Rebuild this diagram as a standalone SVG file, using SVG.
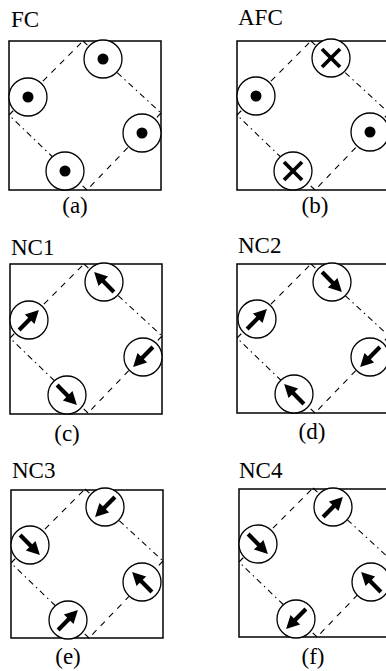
<svg xmlns="http://www.w3.org/2000/svg" xmlns:xlink="http://www.w3.org/1999/xlink" width="386" height="671" viewBox="0 0 386 671">
<style>
.box{fill:none;stroke:#000;stroke-width:1.5}
.site{fill:#fff;stroke:#000;stroke-width:1.3}
.dash{fill:none;stroke:#000;stroke-width:1.1;stroke-dasharray:6 6}
.dashdot{fill:none;stroke:#000;stroke-width:1.1;stroke-dasharray:6 4 1.5 4}
.title{font-family:"Liberation Serif","Times New Roman",serif;font-size:23px;fill:#000}
.cap{font-family:"Liberation Serif","Times New Roman",serif;font-size:23px;fill:#000;text-anchor:middle}
.x{stroke:#000;stroke-width:3.8;stroke-linecap:butt}
</style>
<defs>
<g id="arrow"><rect x="-14" y="-2.1" width="16" height="4.2" fill="#000"/><polygon points="14,0 1,-6.8 1,6.8" fill="#000"/></g>
<g id="diamond">
<line class="dash" x1="0" y1="74" x2="74" y2="0"/>
<line class="dashdot" x1="74" y1="0" x2="152" y2="72"/>
<line class="dash" x1="152" y1="72" x2="78" y2="149"/>
<line class="dashdot" x1="78" y1="149" x2="0" y2="74"/>
</g>
</defs>

<g id="panels">
<g id="panel-a"><rect class="box" x="9" y="41" width="152" height="149"/><text class="title" x="11" y="27">FC</text><text class="cap" x="75" y="213">(a)</text></g>
<g id="panel-b"><rect class="box" x="237" y="41" width="152" height="149"/><text class="title" x="238" y="25">AFC</text><text class="cap" x="315" y="213">(b)</text></g>
<g id="panel-c"><rect class="box" x="10" y="264" width="152" height="150"/><text class="title" x="11" y="255">NC1</text><text class="cap" x="67" y="441">(c)</text></g>
<g id="panel-d"><rect class="box" x="237" y="264" width="152" height="149"/><text class="title" x="238" y="253">NC2</text><text class="cap" x="312" y="439">(d)</text></g>
<g id="panel-e"><rect class="box" x="11" y="490" width="152" height="148"/><text class="title" x="12" y="478">NC3</text><text class="cap" x="68" y="664">(e)</text></g>
<g id="panel-f"><rect class="box" x="239" y="489" width="152" height="148"/><text class="title" x="239" y="478">NC4</text><text class="cap" x="313" y="664">(f)</text></g>
</g>

<g id="connectors">
<use xlink:href="#diamond" transform="translate(9,41)"/>
<use xlink:href="#diamond" transform="translate(237,41)"/>
<use xlink:href="#diamond" transform="translate(10,264)"/>
<use xlink:href="#diamond" transform="translate(237,264)"/>
<use xlink:href="#diamond" transform="translate(11,489)"/>
<use xlink:href="#diamond" transform="translate(239,488)"/>
</g>

<!-- (a) FC -->
<g id="a-top" transform="translate(103,59)"><circle class="site" r="19"/><circle r="5.5" fill="#000"/></g>
<g id="a-left" transform="translate(28,97)"><circle class="site" r="19"/><circle r="5.5" fill="#000"/></g>
<g id="a-right" transform="translate(142,133)"><circle class="site" r="19"/><circle r="5.5" fill="#000"/></g>
<g id="a-bottom" transform="translate(65,171)"><circle class="site" r="19"/><circle r="5.5" fill="#000"/></g>

<!-- (b) AFC -->
<g id="b-top" transform="translate(331,58)"><circle class="site" r="19"/><line class="x" x1="-9" y1="-9" x2="9" y2="9"/><line class="x" x1="9" y1="-9" x2="-9" y2="9"/></g>
<g id="b-left" transform="translate(256,96)"><circle class="site" r="19"/><circle r="5.5" fill="#000"/></g>
<g id="b-right" transform="translate(370,132)"><circle class="site" r="19"/><circle r="5.5" fill="#000"/></g>
<g id="b-bottom" transform="translate(293,171)"><circle class="site" r="19"/><line class="x" x1="-9" y1="-9" x2="9" y2="9"/><line class="x" x1="9" y1="-9" x2="-9" y2="9"/></g>

<!-- (c) NC1 -->
<g id="c-top" transform="translate(104,282)"><circle class="site" r="19"/><use xlink:href="#arrow" transform="rotate(-135)"/></g>
<g id="c-left" transform="translate(29,320)"><circle class="site" r="19"/><use xlink:href="#arrow" transform="rotate(-45)"/></g>
<g id="c-right" transform="translate(143,357)"><circle class="site" r="19"/><use xlink:href="#arrow" transform="rotate(135)"/></g>
<g id="c-bottom" transform="translate(67,395)"><circle class="site" r="19"/><use xlink:href="#arrow" transform="rotate(45)"/></g>

<!-- (d) NC2 -->
<g id="d-top" transform="translate(332,282)"><circle class="site" r="19"/><use xlink:href="#arrow" transform="rotate(45)"/></g>
<g id="d-left" transform="translate(257,319)"><circle class="site" r="19"/><use xlink:href="#arrow" transform="rotate(-45)"/></g>
<g id="d-right" transform="translate(370,357)"><circle class="site" r="19"/><use xlink:href="#arrow" transform="rotate(135)"/></g>
<g id="d-bottom" transform="translate(294,394)"><circle class="site" r="19"/><use xlink:href="#arrow" transform="rotate(-135)"/></g>

<!-- (e) NC3 -->
<g id="e-top" transform="translate(105,507)"><circle class="site" r="19"/><use xlink:href="#arrow" transform="rotate(135)"/></g>
<g id="e-left" transform="translate(30,545)"><circle class="site" r="19"/><use xlink:href="#arrow" transform="rotate(45)"/></g>
<g id="e-right" transform="translate(142,582)"><circle class="site" r="19"/><use xlink:href="#arrow" transform="rotate(-135)"/></g>
<g id="e-bottom" transform="translate(68,620)"><circle class="site" r="19"/><use xlink:href="#arrow" transform="rotate(-45)"/></g>

<!-- (f) NC4 -->
<g id="f-top" transform="translate(333,507)"><circle class="site" r="19"/><use xlink:href="#arrow" transform="rotate(-45)"/></g>
<g id="f-left" transform="translate(258,544)"><circle class="site" r="19"/><use xlink:href="#arrow" transform="rotate(45)"/></g>
<g id="f-right" transform="translate(371,582)"><circle class="site" r="19"/><use xlink:href="#arrow" transform="rotate(-135)"/></g>
<g id="f-bottom" transform="translate(296,619)"><circle class="site" r="19"/><use xlink:href="#arrow" transform="rotate(135)"/></g>
</svg>
